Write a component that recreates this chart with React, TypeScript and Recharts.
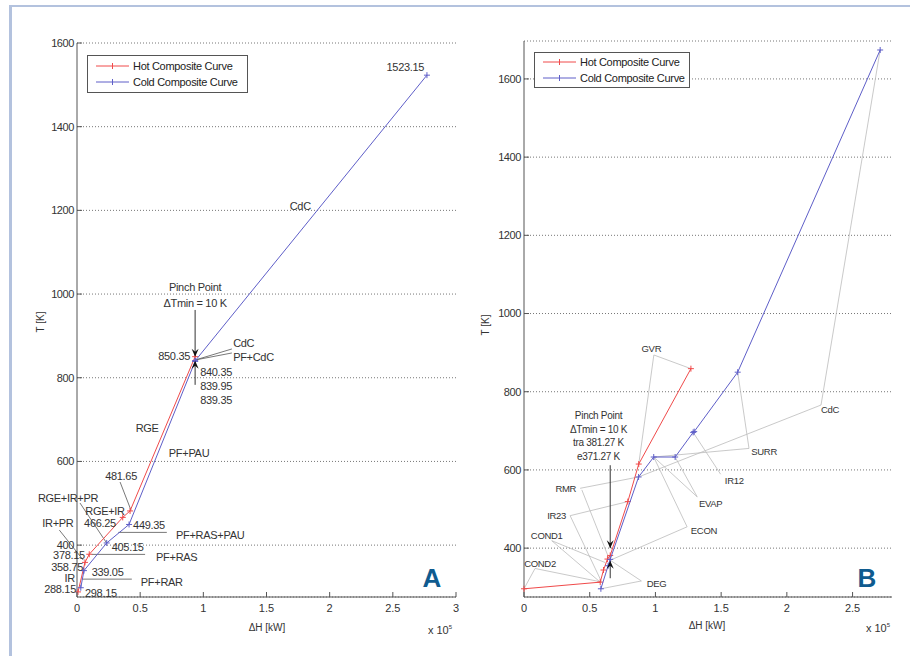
import React from 'react';
import {
  ScatterChart,
  Scatter,
  XAxis,
  YAxis,
  CartesianGrid,
  ReferenceLine,
  ReferenceDot,
  Legend,
} from 'recharts';

const HOT = '#f04a4a';
const COLD = '#5e5ec8';
const AXIS = '#555';
const FONT = '"Liberation Sans", Arial, sans-serif';

// ---- panel A (ΔH in 1e5 kW, T in K) ----
const hotA_dH = [0.008, 0.063, 0.097, 0.362, 0.42, 0.935];
const hotA_T = [288.15, 358.75, 378.15, 466.25, 481.65, 850.35];
const coldA_dH = [0.03, 0.055, 0.235, 0.412, 0.935, 0.935, 0.935, 2.77];
const coldA_T = [298.15, 339.05, 405.15, 449.35, 839.35, 839.95, 840.35, 1523.15];
const xTicksA = [0, 0.5, 1, 1.5, 2, 2.5, 3];
const yTicksA = [400, 600, 800, 1000, 1200, 1400, 1600];

// ---- panel B ----
const hotB_dH = [0, 0.58, 0.605, 0.635, 0.656, 0.79, 0.873, 1.27];
const hotB_T = [296, 313, 344, 372, 381.27, 519, 615, 859];
const coldB_dH = [0.585, 0.64, 0.656, 0.872, 0.987, 1.15, 1.287, 1.295, 1.626, 2.71];
const coldB_T = [296, 355, 371.27, 582, 633, 633, 696, 698, 850, 1674];
const xTicksB = [0, 0.5, 1, 1.5, 2, 2.5];
const yTicksB = [400, 600, 800, 1000, 1200, 1400, 1600];

type Anchor = 'start' | 'middle' | 'end';
type Lbl = [number, number, string, Anchor];
type Seg = [number, number, number, number];

// annotation text, placed in data units
const labelsA: Lbl[] = [
  [2.599, 1543, '1523.15', 'middle'],
  [1.767, 1211, 'CdC', 'middle'],
  [0.935, 1017, 'Pinch Point', 'middle'],
  [0.935, 979, 'ΔTmin = 10 K', 'middle'],
  [1.236, 883, 'CdC', 'start'],
  [1.236, 850, 'PF+CdC', 'start'],
  [0.895, 852, '850.35', 'end'],
  [0.975, 814, '840.35', 'start'],
  [0.975, 780, '839.95', 'start'],
  [0.975, 747, '839.35', 'start'],
  [0.555, 680, 'RGE', 'middle'],
  [0.887, 620, 'PF+PAU', 'middle'],
  [0.349, 565, '481.65', 'middle'],
  [-0.071, 512, 'RGE+IR+PR', 'middle'],
  [0.222, 482, 'RGE+IR', 'middle'],
  [-0.151, 453, 'IR+PR', 'middle'],
  [0.182, 453, '466.25', 'middle'],
  [0.444, 447, '449.35', 'start'],
  [0.784, 424, 'PF+RAS+PAU', 'start'],
  [0.275, 395, '405.15', 'start'],
  [0.063, 376, '378.15', 'end'],
  [0.626, 371, 'PF+RAS', 'start'],
  [0.048, 347, '358.75', 'end'],
  [0.116, 335, '339.05', 'start'],
  [-0.016, 322, 'IR', 'end'],
  [0.505, 311, 'PF+RAR', 'start'],
  [-0.008, 295, '288.15', 'end'],
  [0.063, 285, '298.15', 'start'],
];

const leadersA: Seg[] = [
  [0.024, 500.5, 0.235, 404.8],
  [-0.14, 436, 0.05, 364],
  [0.341, 550.7, 0.428, 483],
  [0.937, 842.5, 1.226, 868.8],
  [0.937, 842.5, 1.226, 859.2],
  [0.037, 318.7, 0.434, 318.7],
  [0.116, 377.8, 0.539, 377.8],
  [0.327, 430.4, 0.711, 430.4],
];
const pinchA = { x: 0.935, top: 962, down: 850.35, up: 840.35, bottom: 783 };

const labelsB: Lbl[] = [
  [0.969, 911, 'GVR', 'middle'],
  [0.318, 553, 'RMR', 'middle'],
  [0.248, 483, 'IR23', 'middle'],
  [0.173, 433, 'COND1', 'middle'],
  [0.122, 361, 'COND2', 'middle'],
  [1.008, 308, 'DEG', 'middle'],
  [1.369, 443.5, 'ECON', 'middle'],
  [1.42, 512.6, 'EVAP', 'middle'],
  [1.6, 572, 'IR12', 'middle'],
  [1.827, 646, 'SURR', 'middle'],
  [2.329, 753, 'CdC', 'middle'],
];
const pinchTextB: Lbl[] = [
  [0.567, 740, 'Pinch Point', 'middle'],
  [0.567, 704, 'ΔTmin = 10 K', 'middle'],
  [0.567, 669, 'tra 381.27 K', 'middle'],
  [0.567, 635, 'e371.27 K', 'middle'],
];
const leadersB: Seg[] = [
  [0.988, 894, 1.27, 859],
  [0.988, 894, 0.873, 615],
  [0.427, 553, 0.872, 582],
  [0.44, 549, 0.645, 375],
  [0.351, 483, 0.79, 519],
  [0.351, 483, 0.59, 314],
  [0.211, 419, 0.618, 363],
  [0.211, 419, 0.58, 313],
  [0.084, 348, 0, 296],
  [0.084, 348, 0.58, 314],
  [0.893, 316, 0.585, 296],
  [0.893, 316, 0.656, 369],
  [1.241, 454.5, 0.987, 633],
  [1.241, 454.5, 0.656, 369],
  [1.318, 531, 1.15, 633],
  [1.318, 531, 0.987, 633],
  [1.496, 589, 1.287, 696],
  [1.712, 655, 1.626, 850],
  [1.712, 655, 0.987, 633],
  [2.26, 766, 2.71, 1674],
  [2.26, 766, 0.872, 582],
];
const pinchB = { x: 0.656, top: 612, down: 400, up: 368, bottom: 323 };

const zip = (xs: number[], ys: number[]) => xs.map((x, i) => ({ x, y: ys[i] }));

const plus = (color: string) => (p: any) => (
  <g stroke={color} strokeWidth={1}>
    <line x1={p.cx - 3} y1={p.cy} x2={p.cx + 3} y2={p.cy} />
    <line x1={p.cx} y1={p.cy - 3} x2={p.cx} y2={p.cy + 3} />
  </g>
);

const textShape = (text: string, anchor: Anchor, size: number) => (p: any) => (
  <text x={p.cx} y={p.cy} dy="0.35em" textAnchor={anchor} fontSize={size} fill="#333" fontFamily={FONT} letterSpacing={-0.3}>
    {text}
  </text>
);

const arrowShape = (dir: number) => (p: any) => (
  <path
    d={`M${p.cx},${p.cy} L${p.cx - 3.5},${p.cy - dir * 8} L${p.cx},${p.cy - dir * 5} L${p.cx + 3.5},${p.cy - dir * 8} Z`}
    fill="#111"
  />
);

const BottomTick = (p: any) => (
  <g>
    <line x1={p.x} y1={p.y} x2={p.x} y2={p.y - 5} stroke={AXIS} />
    <text x={p.x} y={p.y + 15} textAnchor="middle" fontSize={11} fill="#333" fontFamily={FONT}>
      {p.payload.value}
    </text>
  </g>
);
const LeftTick = (p: any) => (
  <g>
    <line x1={p.x} y1={p.y} x2={p.x + 5} y2={p.y} stroke={AXIS} />
    <text x={p.x - 3} y={p.y} dy="0.35em" textAnchor="end" fontSize={11} fill="#333" fontFamily={FONT} letterSpacing={-0.4}>
      {p.payload.value}
    </text>
  </g>
);
const TopTick = (p: any) => <line x1={p.x} y1={p.y} x2={p.x} y2={p.y + 5} stroke={AXIS} />;
const RightTick = (p: any) => <line x1={p.x} y1={p.y} x2={p.x - 5} y2={p.y} stroke={AXIS} />;

const legendItems = [
  { name: 'Hot Composite Curve', color: HOT },
  { name: 'Cold Composite Curve', color: COLD },
];

const LegendBox = ({ width, pad }: { width: number; pad: number }) => (
  <div
    style={{
      border: '1px solid #555',
      background: '#fff',
      width,
      boxSizing: 'border-box',
      padding: `${pad}px 0`,
      fontSize: 11,
      fontFamily: FONT,
      color: '#222',
      letterSpacing: -0.3,
    }}
  >
    {legendItems.map((it) => (
      <div key={it.name} style={{ display: 'flex', alignItems: 'center', height: 16 }}>
        <svg width={36} height={10} style={{ marginLeft: 7, marginRight: 2 }}>
          <line x1={1} y1={5} x2={34} y2={5} stroke={it.color} />
          <line x1={17.5} y1={2} x2={17.5} y2={8} stroke={it.color} />
        </svg>
        <span>{it.name}</span>
      </div>
    ))}
  </div>
);

type PanelProps = {
  width: number;
  margin: { top: number; right: number; bottom: number; left: number };
  xDomain: [number, number];
  yDomain: [number, number];
  xTicks: number[];
  yTicks: number[];
  hot: { x: number; y: number }[];
  cold: { x: number; y: number }[];
  labels: Lbl[];
  labelSize: number;
  extraLabels?: Lbl[];
  leaders: Seg[];
  leaderColor: string;
  pinch: { x: number; top: number; down: number; up: number; bottom: number };
  legend: { left: number; top: number; width: number; pad: number };
};

function Panel(props: PanelProps) {
  const ax = { xAxisId: 'b', yAxisId: 'l' };
  const pn = props.pinch;
  return (
    <ScatterChart width={props.width} height={656} margin={props.margin}>
      <CartesianGrid {...ax} vertical={false} stroke="#777" strokeDasharray="1 2" />
      <XAxis xAxisId="b" dataKey="x" type="number" domain={props.xDomain} ticks={props.xTicks} interval={0}
        height={30} tickSize={0} tickMargin={0} tick={<BottomTick />} axisLine={{ stroke: AXIS }} />
      <XAxis xAxisId="t" orientation="top" dataKey="x" type="number" domain={props.xDomain} ticks={props.xTicks} interval={0}
        height={0} tickSize={0} tickMargin={0} tick={<TopTick />} axisLine={{ stroke: AXIS }} />
      <YAxis yAxisId="l" dataKey="y" type="number" domain={props.yDomain} ticks={props.yTicks} interval={0}
        width={40} tickSize={0} tickMargin={0} tick={<LeftTick />} axisLine={{ stroke: AXIS }} />
      <YAxis yAxisId="r" orientation="right" dataKey="y" type="number" domain={props.yDomain} ticks={props.yTicks} interval={0}
        width={0} tickSize={0} tickMargin={0} tick={<RightTick />} axisLine={{ stroke: AXIS }} />
      <Legend
        layout="vertical"
        align="center"
        verticalAlign="middle"
        wrapperStyle={{ left: props.legend.left, top: props.legend.top, width: props.legend.width, height: 'auto' }}
        content={() => <LegendBox width={props.legend.width} pad={props.legend.pad} />}
      />
      {props.leaders.map((s, i) => (
        <ReferenceLine key={`ld${i}`} {...ax} segment={[{ x: s[0], y: s[1] }, { x: s[2], y: s[3] }]}
          stroke={props.leaderColor} strokeWidth={0.8} ifOverflow="visible" />
      ))}
      <ReferenceLine {...ax} segment={[{ x: pn.x, y: pn.top }, { x: pn.x, y: pn.down }]} stroke="#333" ifOverflow="visible" />
      <ReferenceLine {...ax} segment={[{ x: pn.x, y: pn.bottom }, { x: pn.x, y: pn.up }]} stroke="#333" ifOverflow="visible" />
      <Scatter name="Hot Composite Curve" data={props.hot} {...ax} line={{ stroke: HOT, strokeWidth: 1 }}
        shape={plus(HOT)} isAnimationActive={false} />
      <Scatter name="Cold Composite Curve" data={props.cold} {...ax} line={{ stroke: COLD, strokeWidth: 1 }}
        shape={plus(COLD)} isAnimationActive={false} />
      <ReferenceDot {...ax} x={pn.x} y={pn.down} ifOverflow="visible" shape={arrowShape(1)} />
      <ReferenceDot {...ax} x={pn.x} y={pn.up} ifOverflow="visible" shape={arrowShape(-1)} />
      {props.labels.map((l, i) => (
        <ReferenceDot key={`lb${i}`} {...ax} x={l[0]} y={l[1]} ifOverflow="visible"
          shape={textShape(l[2], l[3], props.labelSize)} />
      ))}
      {(props.extraLabels || []).map((l, i) => (
        <ReferenceDot key={`ex${i}`} {...ax} x={l[0]} y={l[1]} ifOverflow="visible"
          shape={textShape(l[2], l[3], 10)} />
      ))}
    </ScatterChart>
  );
}

const overlay = (left: number, top: number, extra: React.CSSProperties = {}): React.CSSProperties => ({
  position: 'absolute',
  left,
  top,
  transform: 'translate(-50%, -50%)',
  whiteSpace: 'nowrap',
  fontFamily: FONT,
  color: '#333',
  ...extra,
});

export default function App() {
  return (
    <div style={{ position: 'fixed', left: 0, top: 0, width: 910, height: 656, background: '#fff', overflow: 'hidden' }}>
      <div style={{ position: 'absolute', left: 9, top: 5, width: 910, height: 660, borderTop: '2px solid #b3c2de', borderLeft: '3px solid #b3c2de' }} />
      <div style={{ position: 'absolute', left: 0, top: 0 }}>
        <Panel
          width={470}
          margin={{ top: 43, right: 14, bottom: 29, left: 37 }}
          xDomain={[0, 3]}
          yDomain={[276, 1600]}
          xTicks={xTicksA}
          yTicks={yTicksA}
          hot={zip(hotA_dH, hotA_T)}
          cold={zip(coldA_dH, coldA_T)}
          labels={labelsA}
          labelSize={11}
          leaders={leadersA}
          leaderColor="#555"
          pinch={pinchA}
          legend={{ left: 87, top: 55, width: 161, pad: 2 }}
        />
      </div>
      <div style={{ position: 'absolute', left: 460, top: 0 }}>
        <Panel
          width={450}
          margin={{ top: 41, right: 18, bottom: 29, left: 24 }}
          xDomain={[0, 2.8]}
          yDomain={[275, 1697]}
          xTicks={xTicksB}
          yTicks={yTicksB}
          hot={zip(hotB_dH, hotB_T)}
          cold={zip(coldB_dH, coldB_T)}
          labels={labelsB}
          labelSize={9.5}
          extraLabels={pinchTextB}
          leaders={leadersB}
          leaderColor="#bbb"
          pinch={pinchB}
          legend={{ left: 74, top: 52, width: 156, pad: 1 }}
        />
      </div>
      <div style={overlay(40, 322, { transform: 'translate(-50%, -50%) rotate(-90deg)', fontSize: 10 })}>T [K]</div>
      <div style={overlay(267, 627, { fontSize: 10 })}>ΔH [kW]</div>
      <div style={overlay(440, 630, { fontSize: 11 })}>x 10<sup style={{ fontSize: 6 }}>5</sup></div>
      <div style={overlay(432, 578, { fontSize: 26, fontWeight: 'bold', color: '#0f5b8f' })}>A</div>
      <div style={overlay(485, 325, { transform: 'translate(-50%, -50%) rotate(-90deg)', fontSize: 10 })}>T [K]</div>
      <div style={overlay(707, 625, { fontSize: 10 })}>ΔH [kW]</div>
      <div style={overlay(878, 628, { fontSize: 11 })}>x 10<sup style={{ fontSize: 6 }}>5</sup></div>
      <div style={overlay(867, 578, { fontSize: 26, fontWeight: 'bold', color: '#0f5b8f' })}>B</div>
    </div>
  );
}
